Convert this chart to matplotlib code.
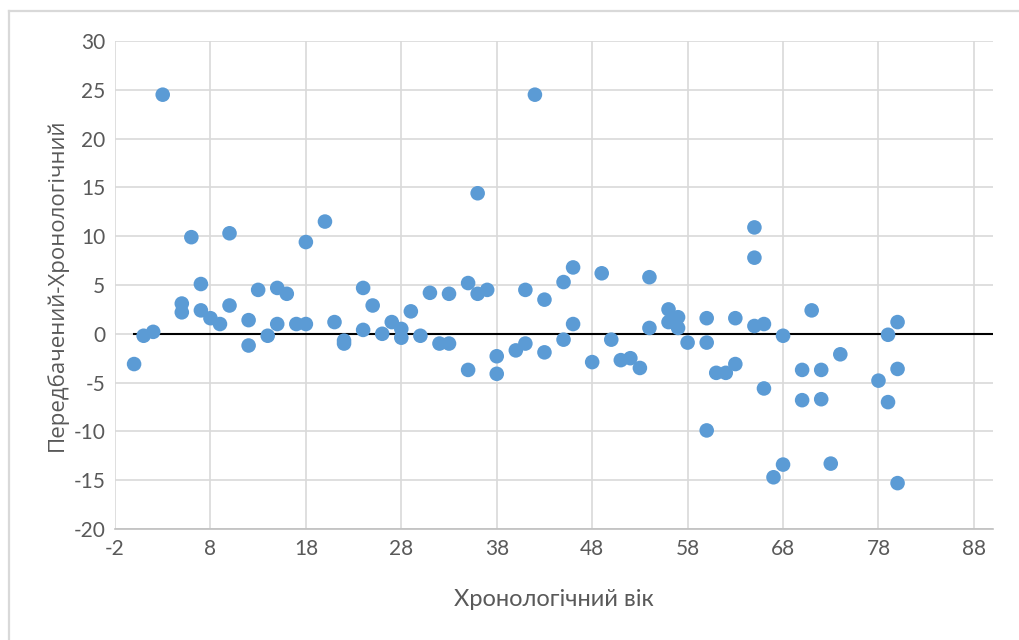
import matplotlib
matplotlib.use("Agg")
import matplotlib.pyplot as plt
from matplotlib.lines import Line2D

# chronological age vs (predicted - chronological)
age = [0, 1, 2, 3, 5, 5, 6, 7, 7, 8, 9, 10, 10, 12, 12, 13, 14, 15, 15, 16,
       17, 18, 18, 20, 21, 22, 22, 24, 24, 25, 26, 27, 28, 28, 29, 30, 31, 32,
       33, 33, 35, 35, 36, 36, 37, 38, 38, 40, 41, 41, 42, 43, 43, 45, 45, 46,
       46, 48, 49, 50, 51, 52, 53, 54, 54, 56, 56, 57, 57, 58, 60, 60, 60, 61,
       62, 63, 63, 65, 65, 65, 66, 66, 67, 68, 68, 70, 70, 71, 72, 72, 73, 74,
       78, 79, 79, 80, 80, 80]
diff = [-3.1, -0.2, 0.2, 24.5, 3.1, 2.2, 9.9, 5.1, 2.4, 1.6, 1.0, 10.3, 2.9,
        1.4, -1.2, 4.5, -0.2, 4.7, 1.0, 4.1, 1.0, 1.0, 9.4, 11.5, 1.2, -0.7,
        -1.0, 4.7, 0.4, 2.9, 0.0, 1.2, 0.5, -0.4, 2.3, -0.2, 4.2, -1.0, -1.0,
        4.1, 5.2, -3.7, 4.1, 14.4, 4.5, -2.3, -4.1, -1.7, -1.0, 4.5, 24.5, 3.5,
        -1.9, 5.3, -0.6, 6.8, 1.0, -2.9, 6.2, -0.6, -2.7, -2.5, -3.5, 5.8, 0.6,
        2.5, 1.2, 1.7, 0.6, -0.9, 1.6, -0.9, -9.9, -4.0, -4.0, -3.1, 1.6, 10.9,
        7.8, 0.8, 1.0, -5.6, -14.7, -13.4, -0.2, -3.7, -6.8, 2.4, -3.7, -6.7,
        -13.3, -2.1, -4.8, -0.1, -7.0, 1.2, -3.6, -15.3]

zero_x = [0, 90]
zero_y = [0, 0]

x_ticks = list(range(-2, 89, 10))
y_ticks = list(range(-20, 31, 5))

plt.rcParams["font.family"] = ["Lato", "DejaVu Sans"]
plt.rcParams["axes.unicode_minus"] = False

fig = plt.figure(figsize=(10.2, 6.4), dpi=100)
ax = fig.add_axes([115 / 1020, 1 - 529 / 640, (993 - 115) / 1020, (529 - 41) / 640])

# outer chart frame (top and left edges only, the rest runs off the picture)
fx, fy = 9 / 1020, 1 - 11 / 640
fig.lines.append(Line2D([fx, 1.0], [fy, fy], transform=fig.transFigure,
                        color="#d9d9d9", linewidth=1.6))
fig.lines.append(Line2D([fx, fx], [0.0, fy], transform=fig.transFigure,
                        color="#d9d9d9", linewidth=1.6))

ax.scatter(age, diff, s=110, color="#5b9bd5", edgecolors="none", zorder=3)
ax.plot(zero_x, zero_y, color="black", linewidth=1.5, zorder=2)

ax.set_xlim(-2, 90)
ax.set_ylim(-20, 30)
ax.set_xticks(x_ticks)
ax.set_yticks(y_ticks)
ax.grid(True, color="#d9d9d9", linewidth=1.2)
ax.set_axisbelow(True)

for side in ["top", "right", "left"]:
    ax.spines[side].set_visible(False)
ax.spines["bottom"].set_color("#bfbfbf")
ax.spines["bottom"].set_linewidth(1.2)

ax.tick_params(length=0, labelsize=15, labelcolor="#595959", pad=7)

ax.set_xlabel("Хронологічний вік", fontsize=17, color="#595959", labelpad=22)
ax.set_ylabel("Передбачений-Хронологічний", fontsize=16, color="#595959",
              family=["Open Sans", "DejaVu Sans"], labelpad=4)

fig.savefig("out.png", dpi=100)
